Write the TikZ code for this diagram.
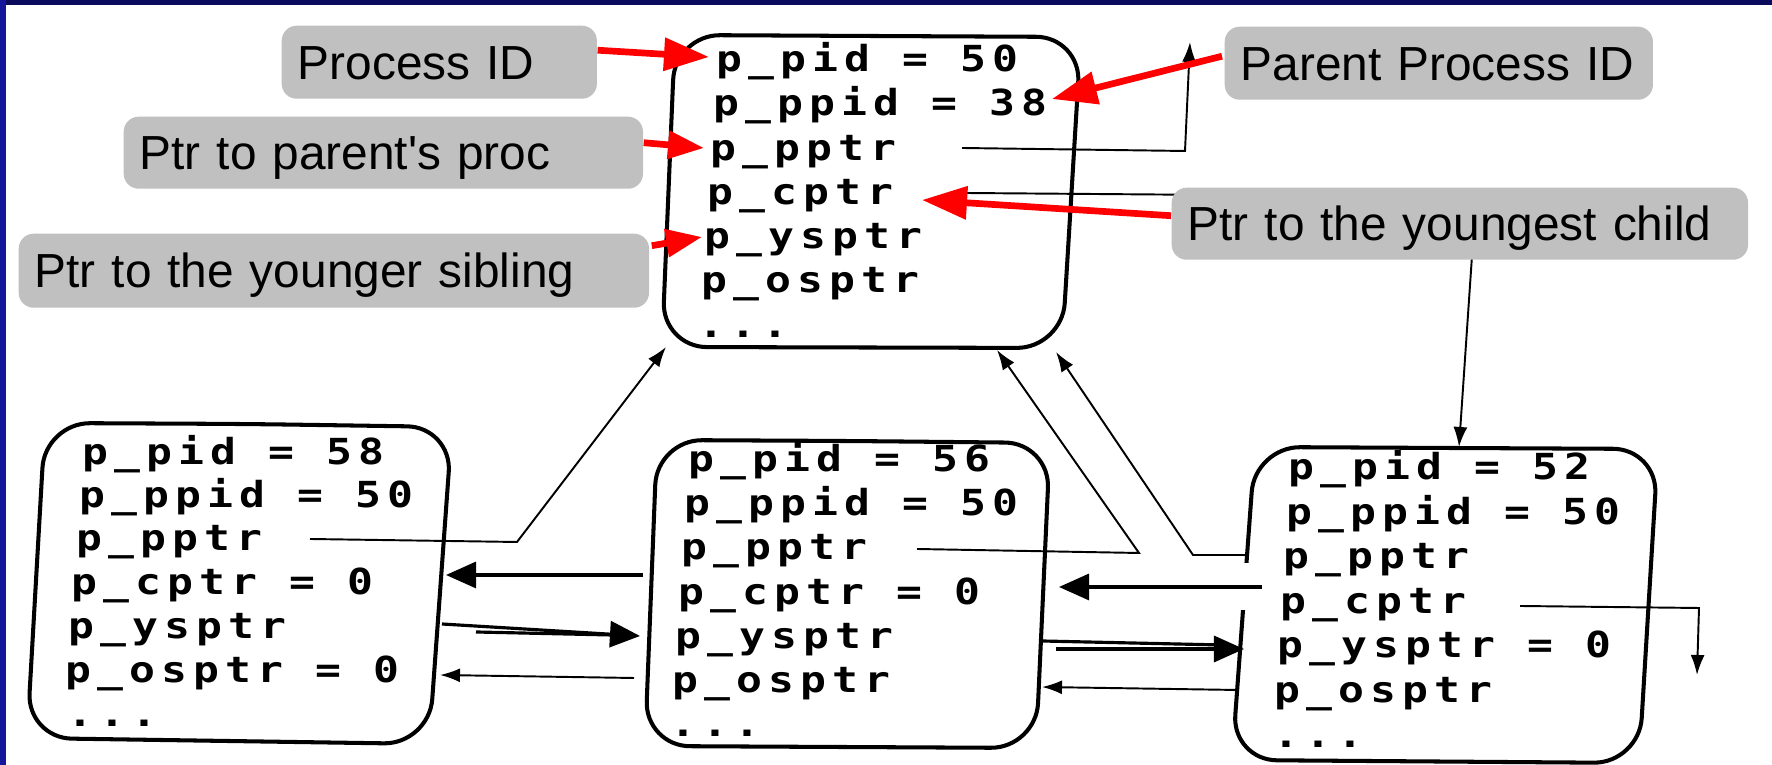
\documentclass[tikz,border=0pt]{standalone}
\usepackage{fontspec}
\setmainfont{Liberation Sans}
\newfontfamily\recfont[FakeStretch=1.2, LetterSpace=17]{DejaVu Sans Mono Bold}
\usetikzlibrary{arrows.meta,calc}
\definecolor{lblgray}{HTML}{C0C0C0}
\definecolor{arrred}{HTML}{FF0000}
\definecolor{navytop}{HTML}{0B0B5E}
\definecolor{navyleft}{HTML}{16169A}
\tikzset{
  lbl/.style={fill=lblgray, rounded corners=0.15cm, anchor=north west,
    inner xsep=0.16cm, inner ysep=0pt, align=left,
    font=\fontsize{13.6}{16}\selectfont, text height=0.342cm, text depth=0cm},
  rec/.style={anchor=base west, inner sep=0pt, font=\recfont\fontsize{10.2}{12}\selectfont},
  recbox/.style={draw=black, line width=1.15pt, rounded corners=0.45cm},
  ptr/.style={draw=black, line width=0.55pt, line join=miter, -{Latex[length=0.2cm,width=0.14cm]}},
  bigptr/.style={draw=black, line width=0.9pt, -{Triangle[length=0.3cm,width=0.26cm]}},
  plainln/.style={draw=black, line width=0.9pt},
  redarr/.style={draw=arrred, line width=1.9pt, -{Triangle[length=0.45cm,width=0.32cm]}},
  redarrs/.style={draw=arrred, line width=1.9pt, -{Triangle[length=0.36cm,width=0.27cm]}}
}
\begin{document}
\begin{tikzpicture}[x=0.01cm, y=-0.01cm]
\useasboundingbox (0,0) rectangle (1772,765);
\fill[white] (0,0) rectangle (1772,765);
\fill[navytop] (0,0) rectangle (1772,5);
\fill[navyleft] (0,0) rectangle (6,765);

% ---------- record boxes ----------
\draw[recbox] (870,36) -- (1081,37) -- (1062,348) -- (662,347) -- (675,35) -- cycle;
\draw[recbox] (250,424) -- (452,427) -- (429,744) -- (27,738) -- (45,423) -- cycle;
\draw[recbox] (850,441) -- (1050,443) -- (1036,748) -- (645,746) -- (657,440) -- cycle;
\draw[recbox] (1450,448) -- (1658,449) -- (1639,763) -- (1232,760) -- (1255,447) -- cycle;
% scanner gap in the left edge of the right box
\fill[white] (1230,563) rectangle (1262,610);

% ---------- record texts ----------
% top process (pid 50)
\node[rec] (a1) at (716,72)  {p\_pid = 50};
\node[rec] (a2) at (713,116) {p\_ppid = 38};
\node[rec] (a3) at (710,161) {p\_pptr};
\node[rec] (a4) at (707,205) {p\_cptr};
\node[rec] (a5) at (704,249) {p\_ysptr};
\node[rec] (a6) at (701,293) {p\_osptr};
\node[rec] (a7) at (698,338) {...};
% left process (pid 58)
\node[rec] (b1) at (82,465)  {p\_pid = 58};
\node[rec] (b2) at (79,508)  {p\_ppid = 50};
\node[rec] (b3) at (76,551)  {p\_pptr};
\node[rec] (b4) at (71,595)  {p\_cptr = 0};
\node[rec] (b5) at (68,639)  {p\_ysptr};
\node[rec] (b6) at (65,683)  {p\_osptr = 0};
\node[rec] (b7) at (67,727)  {...};
% middle process (pid 56)
\node[rec] (c1) at (688,472) {p\_pid = 56};
\node[rec] (c2) at (684,516) {p\_ppid = 50};
\node[rec] (c3) at (681,560) {p\_pptr};
\node[rec] (c4) at (678,605) {p\_cptr = 0};
\node[rec] (c5) at (675,649) {p\_ysptr};
\node[rec] (c6) at (672,693) {p\_osptr};
\node[rec] (c7) at (670,737) {...};
% right process (pid 52)
\node[rec] (d1) at (1288,480) {p\_pid = 52};
\node[rec] (d2) at (1286,525) {p\_ppid = 50};
\node[rec] (d3) at (1283,569) {p\_pptr};
\node[rec] (d4) at (1280,614) {p\_cptr};
\node[rec] (d5) at (1277,658) {p\_ysptr = 0};
\node[rec] (d6) at (1274,703) {p\_osptr};
\node[rec] (d7) at (1273,748) {...};

% ---------- connector coordinates ----------
\coordinate (apS) at (962,148);  \coordinate (apC) at (1185,151); \coordinate (apT) at (1190,42);
\coordinate (acS) at (965,193);  \coordinate (acC) at (1476,197); \coordinate (acT) at (1459,447);
\coordinate (bpS) at (310,539);  \coordinate (bpC) at (517,542);  \coordinate (bpT) at (666,347);
\coordinate (cpS) at (917,549);  \coordinate (cpC) at (1139,553); \coordinate (cpT) at (997,350);
\coordinate (dpS) at (1246,555); \coordinate (dpC) at (1193,555); \coordinate (dpT) at (1056,352);
\coordinate (dcS) at (1520,606); \coordinate (dcC) at (1699,608); \coordinate (dcT) at (1697,675);
\coordinate (caS) at (643,575);  \coordinate (caT) at (446,575);
\coordinate (bbS) at (442,624);  \coordinate (bbT) at (640,636);
\coordinate (bb2S) at (476,632); \coordinate (bb2E) at (612,635);
\coordinate (ccS) at (634,678);  \coordinate (ccT) at (440,675);
\coordinate (ddS) at (1262,587); \coordinate (ddT) at (1059,587);
\coordinate (eeS) at (1056,649); \coordinate (eeT) at (1244,649);
\coordinate (ee2S) at (1042,641);\coordinate (ee2E) at (1222,645);
\coordinate (ffS) at (1238,690); \coordinate (ffT) at (1042,687);

% ---------- black connectors ----------
\draw[ptr] (apS) -- (apC) -- (apT);
\draw[ptr] (acS) -- (acC) -- (acT);
\draw[ptr] (bpS) -- (bpC) -- (bpT);
\draw[ptr] (cpS) -- (cpC) -- (cpT);
\draw[ptr] (dpS) -- (dpC) -- (dpT);
\draw[ptr] (dcS) -- (dcC) -- (dcT);
\draw[bigptr] (caS) -- (caT);
\draw[bigptr] (bbS) -- (bbT);
\draw[plainln] (bb2S) -- (bb2E);
\draw[ptr] (ccS) -- (ccT);
\draw[bigptr] (ddS) -- (ddT);
\draw[bigptr] (eeS) -- (eeT);
\draw[plainln] (ee2S) -- (ee2E);
\draw[ptr] (ffS) -- (ffT);

% ---------- grey labels ----------
\node[lbl, minimum height=0.73cm, text width=2.83cm] (lpid)  at (281,25)  {Process ID};
\node[lbl, minimum height=0.73cm, text width=3.96cm] (lppid) at (1224,26) {Parent Process ID};
\node[lbl, minimum height=0.72cm, text width=4.87cm] (lpp)   at (123,116) {Ptr to parent\textquotesingle s proc};
\node[lbl, minimum height=0.72cm, text width=5.44cm] (lyc)   at (1171,187) {Ptr to the youngest child};
\node[lbl, minimum height=0.74cm, text width=5.98cm] (lys)   at (18,233)  {Ptr to the younger sibling};

% ---------- red arrows ----------
\coordinate (r1T) at (709,57);
\coordinate (r2T) at (1052,99);
\coordinate (r3T) at (704,148);
\coordinate (r4T) at (922,200);
\coordinate (r5T) at (702,237);
\draw[redarr]  ($(lpid.east)+(0,-12)$) -- (r1T);
\draw[redarr]  ($(lppid.west)+(-2,-7)$) -- (r2T);
\draw[redarrs] ($(lpp.east)+(0,-10)$) -- (r3T);
\draw[redarr]  ($(lyc.west)+(0,-8)$) -- (r4T);
\draw[redarrs] ($(lys.east)+(2,-25)$) -- (r5T);
\end{tikzpicture}
\end{document}
